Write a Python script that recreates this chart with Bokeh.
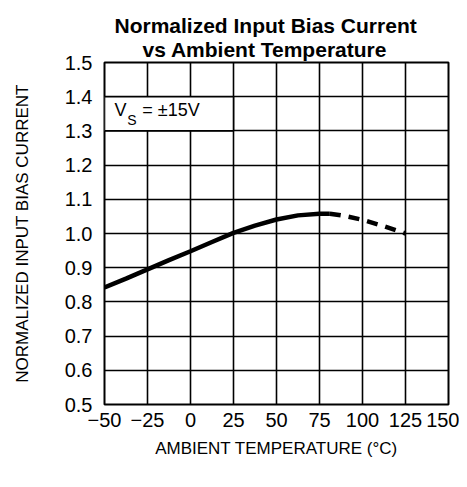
from bokeh.plotting import figure
from bokeh.models import FixedTicker, Title, Range1d
from bokeh.core.properties import value
from bokeh.embed import file_html
from bokeh.resources import INLINE

# data
temp_solid = [-50, -37.5, -25, -12.5, 0, 12.5, 25, 37.5, 50, 62.5, 75, 81]
bias_solid = [0.842, 0.868, 0.895, 0.922, 0.948, 0.975, 1.002, 1.023, 1.041, 1.053, 1.058, 1.058]
temp_dash = [81, 90, 100, 112.5, 125]
bias_dash = [1.058, 1.051, 1.040, 1.021, 1.000]
x_ticks = [-50, -25, 0, 25, 50, 75, 100, 125, 150]
y_ticks = [0.5, 0.6, 0.7, 0.8, 0.9, 1.0, 1.1, 1.2, 1.3, 1.4, 1.5]
box_x = [-50, 25]
box_y = [1.3, 1.4]
title_lines = ["Normalized Input Bias Current", "vs Ambient Temperature"]

FONT = "Liberation Sans"

p = figure(width=459, height=479, output_backend="svg", toolbar_location=None,
           x_range=Range1d(-50, 150), y_range=Range1d(0.5, 1.5),
           min_border_left=104, min_border_right=11, min_border_top=62, min_border_bottom=75)
p.title = None
p.add_layout(Title(text=title_lines[1], align="left", offset=38, text_font=FONT,
                   text_font_size="21px", text_font_style="bold", text_color="black",
                   vertical_align="top", standoff=0), "above")
p.add_layout(Title(text=title_lines[0], align="left", offset=10, text_font=FONT,
                   text_font_size="21px", text_font_style="bold", text_color="black",
                   standoff=2), "above")

p.xaxis.ticker = FixedTicker(ticks=x_ticks)
p.yaxis.ticker = FixedTicker(ticks=y_ticks)
p.xaxis.major_label_overrides = {t: (("\u2212" + str(-t)) if t < 0 else str(t)) for t in x_ticks}
p.yaxis.major_label_overrides = {t: f"{t:.1f}" for t in y_ticks}

for ax in (p.xaxis, p.yaxis):
    ax.axis_line_color = None
    ax.major_tick_line_color = None
    ax.minor_tick_line_color = None
    ax.major_label_text_font = FONT
    ax.major_label_text_font_size = "20px"
    ax.major_label_text_color = "black"
    ax.axis_label_text_font = FONT
    ax.axis_label_text_font_size = "17px"
    ax.axis_label_text_font_style = "normal"
    ax.axis_label_text_color = "black"

p.xaxis.axis_label = "AMBIENT TEMPERATURE (\u00b0C)"
p.yaxis.axis_label = "NORMALIZED INPUT BIAS CURRENT"
p.xaxis.major_label_standoff = 2
p.yaxis.major_label_standoff = 6
p.xaxis.axis_label_standoff = 9
p.yaxis.axis_label_standoff = 30

p.grid.grid_line_color = "black"
p.grid.grid_line_width = 1.6
p.grid.grid_line_alpha = 1
p.outline_line_color = "black"
p.outline_line_width = 2
p.background_fill_color = "white"
p.border_fill_color = "white"

# legend box
p.quad(left=box_x[0], right=box_x[1], bottom=box_y[0], top=box_y[1],
       fill_color="white", line_color="black", line_width=1.6)
p.text(x=[-44.2], y=[1.36], text=["V"], text_font=value(FONT), text_font_size="18px",
       text_baseline="middle", text_align="left")
p.text(x=[-36.8], y=[1.333], text=["S"], text_font=value(FONT), text_font_size="14px",
       text_baseline="middle", text_align="left")
p.text(x=[-28], y=[1.36], text=["= \u00b115V"], text_font=value(FONT), text_font_size="18px",
       text_baseline="middle", text_align="left")

p.line(temp_solid, bias_solid, line_color="black", line_width=4.5)
p.line(temp_dash, bias_dash, line_color="black", line_width=4.5, line_dash="11 8")

open("out.html", "w").write(file_html(p, INLINE))
